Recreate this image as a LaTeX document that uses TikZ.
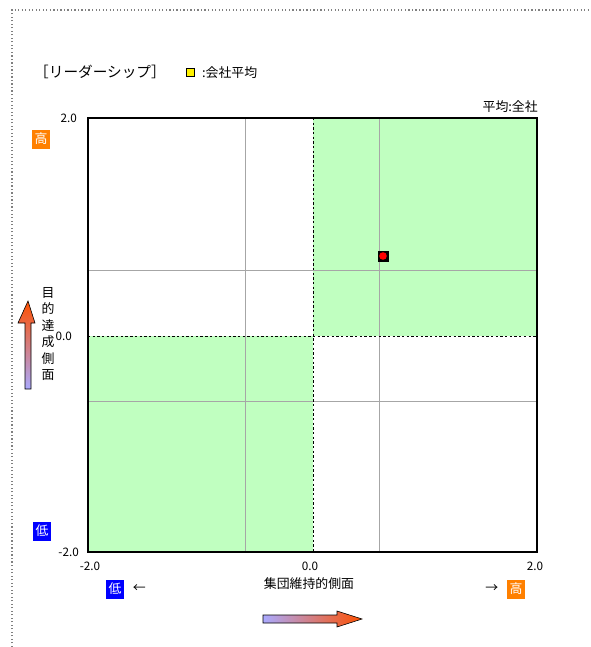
\documentclass[tikz,border=0pt]{standalone}
\usepackage{fontspec}
\setmainfont{Noto Sans CJK JP}
\usetikzlibrary{positioning}

\definecolor{zone}{HTML}{C0FFC0}
\definecolor{hicol}{HTML}{FF8000}
\definecolor{locol}{HTML}{0000FF}
\definecolor{arrlow}{HTML}{AAAAFF}
\definecolor{arrhigh}{HTML}{FF5000}

\begin{document}
\begin{tikzpicture}[
x=0.03cm, y=-0.03cm,
txt/.style={inner sep=0pt, font=\fontsize{11}{13}\selectfont},
num/.style={inner sep=0pt, font=\fontsize{10}{12}\selectfont},
hi/.style={rectangle, fill=hicol, text=white, minimum width=0.54cm, minimum height=0.57cm, inner sep=0pt, font=\fontsize{11}{13}\selectfont},
lo/.style={rectangle, fill=locol, text=white, minimum width=0.54cm, minimum height=0.57cm, inner sep=0pt, font=\fontsize{11}{13}\selectfont},
gridline/.style={draw=black!35, line width=0.8pt},
midline/.style={draw=black, line width=0.7pt, dash pattern=on 2pt off 2pt},
quad/.style={fill=zone, draw=none}
]
\useasboundingbox (0,0) rectangle (591,647);

%Frame
\draw[black!50, line width=1pt, dotted] (12,647) -- (12,10) -- (591,10);

%Corners
\coordinate (nw)	at (88,118);
\coordinate (se)	at (537,552);
\coordinate (mid)	at (313,336);

%Zones
\fill[quad] (mid) rectangle (se |- nw);
\fill[quad] (nw |- se) rectangle (mid);

%Grid
\draw[gridline] (245,118) -- (245,552);
\draw[gridline] (379,118) -- (379,552);
\draw[gridline] (88,270) -- (537,270);
\draw[gridline] (88,401) -- (537,401);
\draw[midline] (mid |- nw) -- (mid |- se);
\draw[midline] (nw |- mid) -- (se |- mid);
\draw[black, line width=1.1pt] (nw) rectangle (se);

%Nodes
\node[txt, anchor=west, font=\fontsize{12.5}{14}\selectfont]	(title)		at (34,72)		{［リーダーシップ］};
\node[draw=black, fill=yellow, minimum size=0.26cm, inner sep=0pt, line width=0.6pt]	(legbox)	at (190.5,72.5)	{};
\node[txt, anchor=west]	(legend)	[right= 0.2cm of legbox]	{:会社平均};
\node[txt, anchor=east]	(base)		at (538,107)	{平均:全社};

\node[num, anchor=east]	(ytop)		at (77,118)		{2.0};
\node[num, anchor=east]	(ymid)		at (72,336)		{0.0};
\node[num, anchor=east]	(ybot)		at (79,552)		{-2.0};
\node[num]				(xleft)		at (90,566)		{-2.0};
\node[num]				(xmid)		at (310,566)	{0.0};
\node[num]				(xright)	at (535,566)	{2.0};

\node[hi]	(yhigh)		at (41,139)		{高};
\node[lo]	(ylow)		at (42,531)		{低};
\node[txt, align=center, font=\fontsize{11}{14}\selectfont]	(ytitle)	at (48,334)	{目\\的\\達\\成\\側\\面};

\node[lo]	(xlow)		at (115,589)	{低};
\node[txt]	(xlarrow)	[right= 0.25cm of xlow]		{←};
\node[txt]	(xtitle)	at (309,584)	{集団維持的側面};
\node[hi]	(xhigh)		at (516,589)	{高};
\node[txt]	(xrarrow)	[left= 0.25cm of xhigh]		{→};

%Point
\node[draw=black, fill=black, minimum size=0.3cm, inner sep=0pt]	(avg)	at (383,256)	{};
\fill[red] (avg) circle (3.8);

%Arrows
\shade[bottom color=arrlow, top color=arrhigh, draw=black, line width=0.5pt]
	(25,389) -- (25,323) -- (18,323) -- (28,301) -- (35,323) -- (31,323) -- (31,389) -- cycle;
\shade[left color=arrlow, right color=arrhigh, draw=black, line width=0.5pt]
	(263,615) -- (337,615) -- (337,611) -- (362,619) -- (337,627) -- (337,623) -- (263,623) -- cycle;

\end{tikzpicture}
\end{document}
